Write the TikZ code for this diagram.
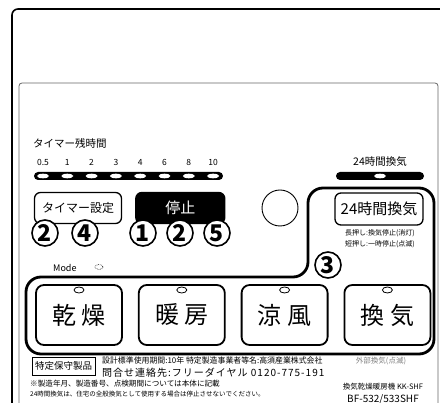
\documentclass[tikz,border=0pt]{standalone}
\usepackage{fontspec}
\newfontfamily\jp{Noto Sans CJK JP}
\newfontfamily\jpwide[LetterSpace=10]{Noto Sans CJK JP}
\usetikzlibrary{positioning}
\tikzset{
  keybtn/.style={draw, line width=1.3pt, rounded corners=6pt, minimum width=87pt, minimum height=31pt, inner sep=0pt, font=\jp\fontsize{12}{12}\selectfont},
  modebtn/.style={draw, line width=1.8pt, rounded corners=8pt, minimum width=86pt, minimum height=60pt, inner sep=0pt, font=\jp\fontsize{24}{24}\selectfont},
  numring/.style={circle, draw, fill=white, line width=1.6pt, minimum size=26pt, inner sep=0pt, font=\jp\bfseries\fontsize{23}{23}\selectfont},
  note/.style={inner sep=0pt, font=\jp\fontsize{#1}{#1}\selectfont},
}
\begin{document}
\begin{tikzpicture}[x=1pt, y=-1pt]
\useasboundingbox (0,0) rectangle (440,403);
\clip (0,0) rectangle (440,403);
% frame and panel
\draw[line width=1.6pt, rounded corners=6pt] (12,9) rectangle (460,430);
\draw[gray!80!black, line width=0.8pt, rounded corners=3pt] (19,83) rectangle (438,430);
% timer remaining
\node[note=10.5, anchor=west] (remain) at (33,143) {タイマー残時間};
\fill[rounded corners=4pt] (34,172) rectangle (223,180);
\foreach \h [count=\i from 0] in {0.5,1,2,3,4,6,8,10} {
  \node[note=8.5] (hr\i) at (43+24.3*\i,162) {\h};
  \fill[white] (43+24.3*\i,176) ellipse (6 and 2.3);
}
% 24h indicator
\node[note=10.5] (ventlbl) at (380,162) {24時間換気};
\fill[rounded corners=4pt] (336,172) rectangle (424,180);
\fill[white] (380,176) ellipse (6 and 2.3);
% keys
\node[keybtn] (timerset) at (78,208) {タイマー設定};
\node[keybtn, fill=black, text=white, minimum width=89pt, font=\jp\fontsize{15}{15}\selectfont, right=13pt of timerset] (stopbtn) {停止};
\node[circle, draw, line width=0.9pt, minimum size=36pt] (knob) at (280,208) {};
\node[keybtn, minimum width=88pt, minimum height=32pt, font=\jp\fontsize{15}{15}\selectfont] (ventbtn) at (379,209) {24時間換気};
\node[note=7] (longpress) at (380,233) {長押し:換気停止(消灯)};
\node[note=7, below=4pt of longpress] (shortpress) {短押し:一時停止(点滅)};
% mode keys
\node[note=9, anchor=west] (modelbl) at (53,268) {Mode};
\draw[densely dotted, line width=0.6pt] (99,267) ellipse (4 and 2.5);
\node[modebtn] (dry) at (79,315) {乾 燥};
\node[modebtn, right=15pt of dry] (heat) {暖 房};
\node[modebtn, right=15pt of heat] (cool) {涼 風};
\node[modebtn, right=15pt of cool] (vent) {換 気};
\foreach \b in {dry, heat, cool, vent}
  \draw[line width=0.8pt] ([yshift=25pt]\b.center) ellipse (5 and 3);
\node[note=7.5, gray] (extvent) at (381,361) {外部換気(点滅)};
% group outline
\draw[line width=2.8pt, rounded corners=15pt] (26,354) -- (26,277) -- (308,277) -- (308,188) -- (434,188) -- (434,354) -- cycle;
% step numbers
\foreach \n/\x/\y in {2/45/233, 4/85/233, 1/143/233, 2/180/233, 5/217/233, 3/328/265}
  \node[numring] (step\x) at (\x,\y) {\n};
% labels at the bottom
\node[draw, line width=0.9pt, minimum width=63pt, minimum height=18pt, inner sep=0pt, font=\jp\fontsize{9.5}{9.5}\selectfont] (special) at (63.5,366) {特定保守製品};
\node[note=7.9, anchor=west] (design) at (102,361) {設計標準使用期間:10年 特定製造事業者等名:高須産業株式会社};
\node[inner sep=0pt, font=\jpwide\fontsize{10}{10}\selectfont, anchor=west] (contact) at (102,373) {問合せ連絡先:フリーダイヤル 0120-775-191};
\node[note=7.6, anchor=west] (maker) at (30,384) {※製造年月、製造番号、点検期間については本体に記載};
\node[note=6.5, anchor=west] (warn) at (30,394.5) {24時間換気は、住宅の全般換気として使用する場合は停止させないでください。};
\node[note=7.5] (model) at (383,387) {換気乾燥暖房機 KK-SHF};
\node[note=10] (modelno) at (383,399) {BF-532/533SHF};
\end{tikzpicture}
\end{document}
